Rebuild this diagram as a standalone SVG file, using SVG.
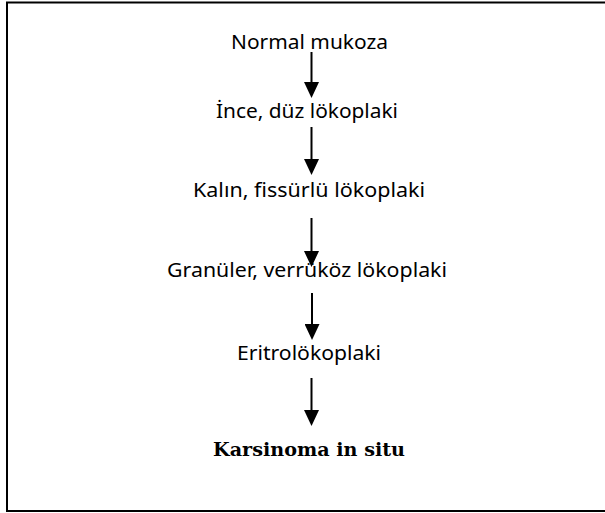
<svg xmlns="http://www.w3.org/2000/svg" width="605" height="513" viewBox="0 0 605 513">
<style>
.lbl{font-family:"Noto Sans","DejaVu Sans",sans-serif;font-size:19.5px;fill:#000;text-anchor:middle}
.bold{font-family:"DejaVu Serif","Liberation Serif",serif;font-size:19px;font-weight:bold;fill:#000;text-anchor:middle}
.arr{stroke:#000;stroke-width:2;fill:none;marker-end:url(#head)}
</style>
<defs>
<marker id="head" viewBox="0 0 16 15" refX="8" refY="7.5" markerWidth="16" markerHeight="15" markerUnits="userSpaceOnUse" orient="auto">
<path d="M0,0 L16,7.5 L0,15 Z" fill="#000"/>
</marker>
</defs>
<rect width="605" height="513" fill="#fff"/>
<path d="M605,2.5 H7 V511 H605" fill="none" stroke="#000" stroke-width="2"/>
<g id="n1"><text class="lbl" x="309.5" y="49" textLength="157" lengthAdjust="spacingAndGlyphs">Normal mukoza</text></g>
<g id="n2"><text class="lbl" x="307" y="118" textLength="182" lengthAdjust="spacingAndGlyphs">İnce, düz lökoplaki</text></g>
<g id="n3"><text class="lbl" x="309" y="197" textLength="232" lengthAdjust="spacingAndGlyphs">Kalın, fissürlü lökoplaki</text></g>
<g id="n4"><text class="lbl" x="307" y="277" textLength="280" lengthAdjust="spacingAndGlyphs">Granüler, verrüköz lökoplaki</text></g>
<g id="n5"><text class="lbl" x="309" y="360" textLength="144" lengthAdjust="spacingAndGlyphs">Eritrolökoplaki</text></g>
<g id="n6"><text class="bold" x="309" y="456" textLength="192" lengthAdjust="spacingAndGlyphs">Karsinoma in situ</text></g>
<g id="connectors">
<line class="arr" x1="311.5" y1="52" x2="311.5" y2="90"/>
<line class="arr" x1="311.5" y1="127" x2="311.5" y2="167"/>
<line class="arr" x1="311.5" y1="218" x2="311.5" y2="259"/>
<line class="arr" x1="312" y1="293" x2="312" y2="332"/>
<line class="arr" x1="311.5" y1="378" x2="311.5" y2="418"/>
</g>
</svg>
